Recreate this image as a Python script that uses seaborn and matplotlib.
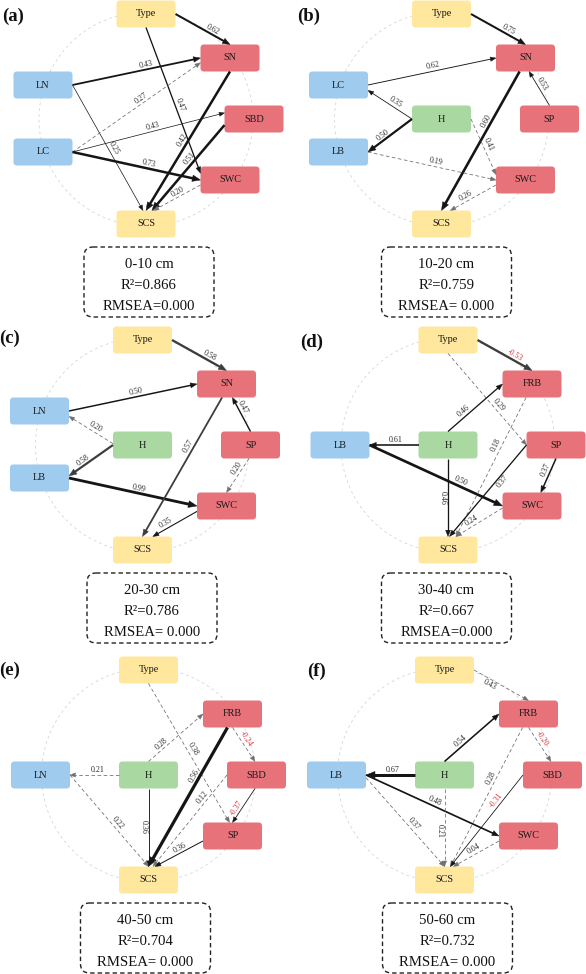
import numpy as np
import pandas as pd
import matplotlib
matplotlib.use("Agg")
import matplotlib.pyplot as plt
from matplotlib.patches import FancyBboxPatch, Polygon
import seaborn as sns

# ------------------------------------------------------------------ data
PANEL_TAGS = ["(a)", "(b)", "(c)", "(d)", "(e)", "(f)"]
DEPTHS = ["0-10 cm", "10-20 cm", "20-30 cm", "30-40 cm", "40-50 cm", "50-60 cm"]
R2_VALUES = ["0.866", "0.759", "0.786", "0.667", "0.704", "0.732"]
RMSEA_LABELS = ["RMSEA=0.000", "RMSEA= 0.000", "RMSEA= 0.000",
                "RMSEA=0.000", "RMSEA= 0.000", "RMSEA= 0.000"]

# nodes shown in each panel
NODES_A = ["Type", "SN", "SBD", "SWC", "SCS", "LN", "LC"]
NODES_B = ["Type", "SN", "SP", "SWC", "SCS", "LC", "LB", "H"]
NODES_C = ["Type", "SN", "SP", "SWC", "SCS", "LN", "LB", "H"]
NODES_D = ["Type", "FRB", "SP", "SWC", "SCS", "LB", "H"]
NODES_E = ["Type", "FRB", "SBD", "SP", "SCS", "LN", "H"]
NODES_F = ["Type", "FRB", "SBD", "SWC", "SCS", "LB", "H"]

# paths: from, to, standardized coefficient, significant (solid) or not (dashed)
A_FROM = ["Type", "Type", "LN", "LN", "LC", "LC", "LC", "SN", "SBD", "SWC"]
A_TO = ["SN", "SWC", "SN", "SCS", "SN", "SBD", "SWC", "SCS", "SCS", "SCS"]
A_COEF = [0.62, 0.47, 0.43, 0.25, 0.27, 0.43, 0.73, 0.42, 0.51, 0.20]
A_SIG = [1, 1, 1, 1, 0, 1, 1, 1, 1, 0]

B_FROM = ["Type", "LC", "H", "H", "SN", "SP", "H", "LB", "SWC"]
B_TO = ["SN", "SN", "LC", "LB", "SCS", "SN", "SWC", "SWC", "SCS"]
B_COEF = [0.75, 0.62, 0.35, 0.50, 0.60, 0.53, 0.41, 0.19, 0.26]
B_SIG = [1, 1, 1, 1, 1, 1, 0, 0, 0]

C_FROM = ["Type", "LN", "H", "H", "LB", "SN", "SP", "SP", "SWC"]
C_TO = ["SN", "SN", "LN", "LB", "SWC", "SCS", "SN", "SWC", "SCS"]
C_COEF = [0.58, 0.50, 0.20, 0.58, 0.99, 0.57, 0.47, 0.20, 0.35]
C_SIG = [1, 1, 0, 1, 1, 1, 1, 0, 1]

D_FROM = ["Type", "Type", "H", "H", "LB", "H", "FRB", "SP", "SP", "SWC"]
D_TO = ["FRB", "SP", "FRB", "LB", "SWC", "SCS", "SCS", "SCS", "SWC", "SCS"]
D_COEF = [-0.53, 0.29, 0.46, 0.61, 0.50, 0.46, 0.18, 0.37, 0.37, 0.24]
D_SIG = [1, 0, 1, 1, 1, 1, 0, 1, 1, 0]

E_FROM = ["Type", "H", "H", "H", "LN", "FRB", "FRB", "SBD", "SBD", "SP"]
E_TO = ["SP", "FRB", "LN", "SCS", "SCS", "SCS", "SBD", "SCS", "SP", "SCS"]
E_COEF = [0.38, 0.28, 0.21, 0.36, 0.22, 0.56, -0.24, 0.12, -0.37, 0.36]
E_SIG = [0, 0, 0, 1, 0, 1, 0, 0, 1, 1]

F_FROM = ["Type", "H", "H", "LB", "LB", "H", "FRB", "FRB", "SBD", "SWC"]
F_TO = ["FRB", "FRB", "LB", "SWC", "SCS", "SCS", "SBD", "SCS", "SCS", "SCS"]
F_COEF = [0.43, 0.54, 0.67, 0.48, 0.37, 0.21, -0.20, 0.28, -0.31, 0.04]
F_SIG = [0, 1, 1, 1, 0, 0, 0, 0, 1, 0]

# ---------------------------------------------------------------- layout / style
# slot order matches NODES_* lists
SLOTS_A = ["T", "UR", "R", "LR", "B", "UL", "LL"]
SLOTS_B = ["T", "UR", "R", "LR", "B", "UL", "LL", "C"]
SLOTS_C = ["T", "UR", "R", "LR", "B", "UL", "LL", "C"]
SLOTS_D = ["T", "UR", "R", "LR", "B", "L", "C"]
SLOTS_E = ["T", "UR", "R", "LR", "B", "L", "C"]
SLOTS_F = ["T", "UR", "R", "LR", "B", "L", "C"]
SLOT_XY = {"T": (0, -105), "UR": (84, -61), "R": (108, 0), "LR": (84, 61),
           "B": (0, 105), "UL": (-103, -34), "LL": (-103, 33), "L": (-108, 0),
           "C": (0, 0)}
CENTERS = [(146, 119), (441.5, 119), (142.5, 445), (448, 445),
           (148.5, 775), (444.5, 775)]
STAT_X = [149, 446.5, 152, 446.5, 145.5, 447.5]
TAG_XY = [(2, 16), (297, 16), (-1, 338), (300, 342), (-1, 670), (307, 671)]

# per-edge style: line width (px), source port, target port, label t, label side, shade
A_STY = [(2.0, (1, 0), (0, -1), .64, 1, "k"), (1.3, (0, 1), (-1, -.5), .54, 1, "k"),
         (1.8, (1, 0), (-1, 0), .58, 1, "k"), (0.7, (1, 0), (-.1, -1), .52, 1, "k"),
         (0.8, (1, 0), (-1, .35), .56, 1, "k"), (0.7, (1, 0), (-1, -.45), .54, 1, "k"),
         (2.5, (1, 0), (-1, 0), .59, 1, "k"), (2.5, (0, 1), (0, -1), .51, 1, "k"),
         (2.5, (-1, .45), (.2, -1), .43, 1, "k"), (0.8, (-1, .37), (.25, -1), .43, 1, "k")]
B_STY = [(2.0, (1, 0), (0, -1), .65, 1, "k"), (0.9, (1, 0), (-1, 0), .52, 1, "k"),
         (0.8, (-1, 0), (1, .4), .44, 1, "k"), (2.2, (-1, 0), (1, 0), .6, 1, "k"),
         (2.6, (-.2, 1), (0, -1), .375, 1, "k"), (0.8, (0, -1), (.12, 1), .56, 1, "k"),
         (0.8, (1, 0), (-1, -.4), .5, 1, "k"), (0.8, (1, 0), (-1, 0), .52, 1, "k"),
         (0.8, (-1, .37), (.3, -1), .6, 1, "k")]
C_STY = [(2.3, (1, 0), (0, -1), .64, 1, "g"), (1.5, (1, 0), (-1, 0), .53, 1, "k"),
         (0.8, (-1, -.1), (1, .4), .46, 1, "k"), (2.2, (-1, 0), (1, -.15), .62, 1, "g"),
         (2.8, (1, 0), (-1, 0), .54, 1, "k"), (1.8, (-.15, 1), (0, -1), .37, 1, "g"),
         (1.4, (0, -1), (.2, 1), .65, 1, "k"), (0.8, (-.05, 1), (0, -1), .36, 1, "k"),
         (1.1, (-1, .4), (.35, -1), .64, 1, "k")]
D_STY = [(2.3, (1, 0), (0, -1), .64, 1, "g"), (0.8, (0, 1), (-1, 0), .6, 1, "k"),
         (1.3, (0, -1), (-1, 0), .35, 1, "k"), (1.6, (-1, 0), (1, 0), .46, 1, "k"),
         (2.7, (1, 0), (-1, 0), .67, 1, "k"), (1.3, (0, 1), (0, -1), .5, 1, "k"),
         (0.8, (-.2, 1), (.27, -1), .36, 1, "k"), (1.3, (-1, 0), (.05, -1), .36, -1, "k"),
         (1.5, (0, 1), (.3, -1), .4, 1, "k"), (0.8, (-1, .15), (.27, -1), .6, 1, "k")]
E_STY = [(0.8, (0, 1), (-.1, -1), .49, 1, "k"), (0.8, (0, -1), (-1, 0), .3, 1, "k"),
         (0.8, (-1, 0), (1, 0), .44, 1, "k"), (0.9, (0, 1), (0, -1), .49, 1, "k"),
         (0.8, (1, 0), (0, -1), .56, 1, "k"), (3.2, (-.17, 1), (0, -1), .365, 1, "k"),
         (0.8, (0, 1), (-.05, -1), .42, 1, "k"), (0.8, (-1, 0), (.15, -1), .28, 1, "k"),
         (0.8, (-.05, 1), (0, -1), .65, 1, "k"), (1.0, (-1, .37), (.22, -1), .44, 1, "k")]
F_STY = [(0.8, (1, 0), (0, -1), .33, -1, "k"), (1.6, (0, -1), (-1, 0), .36, 1, "k"),
         (3.0, (-1, 0), (1, 0), .45, 1, "k"), (1.7, (1, 0), (-1, 0), .5, 1, "k"),
         (0.8, (1, .2), (0, -1), .56, 1, "k"), (0.8, (0, 1), (0, -1), .55, 1, "k"),
         (0.8, (0, 1), (-.05, -1), .4, 1, "k"), (0.8, (-.2, 1), (.2, -1), .38, 1, "k"),
         (0.8, (-1, 0), (.2, -1), .31, 1, "k"), (0.8, (-1, .37), (.3, -1), .5, 1, "k")]

NODE_COLORS = {"Type": "#FFE79E", "SCS": "#FFE79E",
               "SN": "#E8727A", "SBD": "#E8727A", "SWC": "#E8727A",
               "SP": "#E8727A", "FRB": "#E8727A",
               "LN": "#9FCBEE", "LC": "#9FCBEE", "LB": "#9FCBEE",
               "H": "#A9D9A0"}
SHADES = {"k": "#151515", "g": "#3d3d3d"}
DASH_COLOR = "#707070"
NEG_COLOR = "#D9363E"

# ---------------------------------------------------------------- build tables
panels = [
    (NODES_A, SLOTS_A, A_FROM, A_TO, A_COEF, A_SIG, A_STY),
    (NODES_B, SLOTS_B, B_FROM, B_TO, B_COEF, B_SIG, B_STY),
    (NODES_C, SLOTS_C, C_FROM, C_TO, C_COEF, C_SIG, C_STY),
    (NODES_D, SLOTS_D, D_FROM, D_TO, D_COEF, D_SIG, D_STY),
    (NODES_E, SLOTS_E, E_FROM, E_TO, E_COEF, E_SIG, E_STY),
    (NODES_F, SLOTS_F, F_FROM, F_TO, F_COEF, F_SIG, F_STY),
]

sns.set_theme(style="white")
plt.rcParams["font.family"] = ["Liberation Serif", "DejaVu Serif"]
plt.rcParams["lines.scale_dashes"] = False

W, H = 586, 974
fig = plt.figure(figsize=(W / 100, H / 100), dpi=100)
ax = fig.add_axes([0, 0, 1, 1])
PX = 0.72  # points per pixel

HW, HH = 29.5, 13.5   # half box size (px)
RADIUS = 107

for p, (nodes, slots, fr, to, coef, sig, sty) in enumerate(panels):
    cx, cy = CENTERS[p]
    # dashed guide circle
    th = np.linspace(0, 2 * np.pi, 240)
    circ = pd.DataFrame({"x": cx + RADIUS * np.cos(th), "y": cy + RADIUS * np.sin(th)})
    sns.lineplot(data=circ, x="x", y="y", sort=False, estimator=None, ax=ax,
                 color="#d6d6d6", linewidth=0.6, linestyle=(0, (2.0, 2.2)), zorder=1)

    pos = {n: (cx + SLOT_XY[s][0], cy + SLOT_XY[s][1]) for n, s in zip(nodes, slots)}
    for n, (x, y) in pos.items():
        ax.add_patch(FancyBboxPatch((x - HW, y - HH), 2 * HW, 2 * HH,
                                    boxstyle="round,pad=0,rounding_size=3.5",
                                    fc=NODE_COLORS[n], ec="none", zorder=3))
        ax.text(x, y, n, ha="center", va="center", fontsize=7.4,
                color="#1a1a1a", zorder=6)

    edges = pd.DataFrame({"from": fr, "to": to, "coef": coef, "sig": sig})
    for i, row in edges.iterrows():
        lw, sp, tp, tt, side, shade = sty[i]
        x0 = pos[row["from"]][0] + sp[0] * HW
        y0 = pos[row["from"]][1] + sp[1] * HH
        x1 = pos[row["to"]][0] + tp[0] * HW
        y1 = pos[row["to"]][1] + tp[1] * HH
        d = np.array([x1 - x0, y1 - y0])
        L = np.hypot(*d)
        u = d / L
        solid = bool(row["sig"])
        col = SHADES[shade] if solid else DASH_COLOR
        hl = 4.2 + 1.6 * lw
        hw = 1.6 + 0.65 * lw
        xe, ye = x1 - u[0] * hl * 0.85, y1 - u[1] * hl * 0.85
        ls = "-" if solid else (0, (2.6, 1.8))
        ax.plot([x0, xe], [y0, ye], color=col, lw=lw * PX, linestyle=ls,
                solid_capstyle="butt", zorder=4)
        nrm = np.array([-u[1], u[0]])
        head = [(x1, y1),
                (x1 - u[0] * hl + nrm[0] * hw, y1 - u[1] * hl + nrm[1] * hw),
                (x1 - u[0] * hl - nrm[0] * hw, y1 - u[1] * hl - nrm[1] * hw)]
        ax.add_patch(Polygon(head, closed=True, fc=col, ec=col, lw=0.3, zorder=5))
        # label
        up = np.array([u[1], -u[0]])
        if up[1] > 0 or (abs(up[1]) < 1e-6 and up[0] > 0):
            up = -up
        lx = x0 + tt * d[0] + side * 5.0 * up[0]
        ly = y0 + tt * d[1] + side * 5.0 * up[1]
        ang = np.degrees(np.arctan2(-d[1], d[0]))
        if ang >= 90:
            ang -= 180
        elif ang < -90:
            ang += 180
        v = row["coef"]
        ax.text(lx, ly, f"{v:.2f}", fontsize=5.8, rotation=ang,
                rotation_mode="anchor", ha="center", va="center",
                color=NEG_COLOR if v < 0 else "#2a2a2a", zorder=7)

    # statistics box
    sx = STAT_X[p]
    top = cy + 128
    ax.add_patch(FancyBboxPatch((sx - 65, top), 130, 70,
                                boxstyle="round,pad=0,rounding_size=9",
                                fc="white", ec="#222222", lw=1.0,
                                linestyle=(0, (3.2, 2.2)), zorder=3))
    for k, txt in enumerate([DEPTHS[p], "R²=" + R2_VALUES[p], RMSEA_LABELS[p]]):
        ax.text(sx, top + 18 + 20.5 * k, txt, ha="center", va="center",
                fontsize=10.6, color="#111111", zorder=6)

    tx, ty = TAG_XY[p]
    ax.text(tx, ty, PANEL_TAGS[p], ha="left", va="center", fontsize=13.5,
            fontweight="bold", color="#111111", zorder=8)

ax.set_xlim(0, W)
ax.set_ylim(H, 0)
ax.axis("off")
if ax.get_legend() is not None:
    ax.get_legend().remove()
fig.savefig("out.png", dpi=100, facecolor="white")
